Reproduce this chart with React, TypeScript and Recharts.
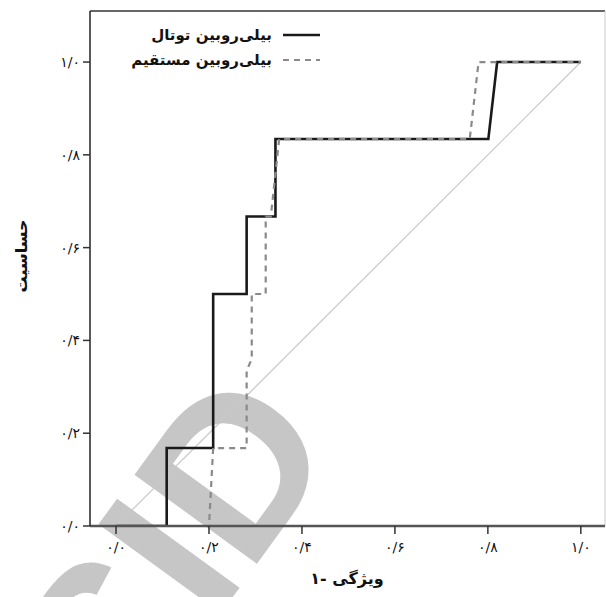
import React from 'react';
import { LineChart, Line, XAxis, YAxis, ReferenceLine, Legend, Label } from 'recharts';

const xTicks = [0, 0.2, 0.4, 0.6, 0.8, 1.0];
const yTicks = [0, 0.2, 0.4, 0.6, 0.8, 1.0];
const tickLabels = ['۰/۰', '۰/۲', '۰/۴', '۰/۶', '۰/۸', '۱/۰'];
const seriesNames = ['بیلی‌روبین توتال', 'بیلی‌روبین مستقیم'];
const xTitle = '۱- ویژگی';
const yTitle = 'حساسیت';
const watermark = 'SID';

const totalFpr = [0, 0.109, 0.109, 0.209, 0.209, 0.281, 0.281, 0.343, 0.343, 0.801, 0.82, 1.0];
const totalTpr = [0, 0, 0.168, 0.168, 0.5, 0.5, 0.667, 0.667, 0.834, 0.834, 1.0, 1.0];

const directFpr = [0, 0.2, 0.209, 0.281, 0.281, 0.292, 0.292, 0.322, 0.322, 0.333, 0.351, 0.761, 0.78, 1.0];
const directTpr = [0, 0, 0.168, 0.168, 0.335, 0.36, 0.5, 0.5, 0.667, 0.667, 0.834, 0.834, 1.0, 1.0];

const diagFpr = [0, 1];
const diagTpr = [0, 1];

const zip = (xs: number[], ys: number[]) => xs.map((x, i) => ({ x, y: ys[i] }));
const totalData = zip(totalFpr, totalTpr);
const directData = zip(directFpr, directTpr);
const diagData = zip(diagFpr, diagTpr);

const X_MIN = -0.056;
const X_MAX = 1.052;
const Y_MAX = 1.11;
const FONT = '"DejaVu Sans", sans-serif';

const fmt = (v: number) => {
  const i = xTicks.findIndex((t) => Math.abs(t - v) < 1e-6);
  return i >= 0 ? tickLabels[i] : '';
};

const LegendBox = () => (
  <svg width={200} height={50} style={{ overflow: 'visible' }}>
    <text x={122} y={18} textAnchor="end" fontSize={15} fontWeight="bold" fontFamily={FONT} fill="#111">
      {seriesNames[0]}
    </text>
    <line x1={133} x2={170} y1={13} y2={13} stroke="#1a1a1a" strokeWidth={2.6} />
    <text x={122} y={43} textAnchor="end" fontSize={15} fontWeight="bold" fontFamily={FONT} fill="#111">
      {seriesNames[1]}
    </text>
    <line x1={133} x2={170} y1={38} y2={38} stroke="#8a8a8a" strokeWidth={2.2} strokeDasharray="6 5" />
  </svg>
);

export default function App() {
  return (
    <div style={{ position: 'absolute', left: 0, top: 0, width: 606, height: 597, background: '#fff', overflow: 'hidden' }}>
      <svg width={606} height={597} style={{ position: 'absolute', left: 0, top: 0 }}>
        <text
          x={126}
          y={744}
          transform="rotate(-54 126 744)"
          fontSize={220}
          fontWeight="bold"
          fontFamily='"Liberation Sans", Arial, sans-serif'
          fill="#c6c6c6"
        >
          {watermark}
        </text>
      </svg>
      <div style={{ position: 'absolute', left: 0, top: 0 }}>
        <LineChart width={606} height={597} margin={{ top: 11, right: 1, bottom: 0, left: 0 }}>
          <XAxis
            type="number"
            dataKey="x"
            domain={[X_MIN, X_MAX]}
            ticks={xTicks}
            allowDataOverflow
            tickFormatter={fmt}
            height={71}
            tickSize={8}
            tickMargin={8}
            axisLine={{ stroke: '#555', strokeWidth: 2.5 }}
            tickLine={{ stroke: '#333', strokeWidth: 1.5 }}
            tick={{ fill: '#111', fontSize: 14, fontFamily: FONT }}
          >
            <Label
              content={() => (
                <text x={347} y={584} textAnchor="middle" fontSize={16} fontWeight="bold" fontFamily={FONT} fill="#111">
                  {xTitle}
                </text>
              )}
            />
          </XAxis>
          <YAxis
            type="number"
            domain={[0, Y_MAX]}
            ticks={yTicks}
            allowDataOverflow
            tickFormatter={fmt}
            width={90}
            tickSize={7}
            tickMargin={3}
            axisLine={{ stroke: '#222', strokeWidth: 1.5 }}
            tickLine={{ stroke: '#333', strokeWidth: 1.5 }}
            tick={{ fill: '#111', fontSize: 14, fontFamily: FONT }}
          >
            <Label
              content={() => (
                <text
                  x={27}
                  y={256}
                  transform="rotate(-90 27 256)"
                  textAnchor="middle"
                  fontSize={16}
                  fontWeight="bold"
                  fontFamily={FONT}
                  fill="#111"
                >
                  {yTitle}
                </text>
              )}
            />
          </YAxis>
          <ReferenceLine y={Y_MAX} stroke="#333" strokeWidth={1.5} />
          <ReferenceLine x={X_MAX} stroke="#c8c8c8" strokeWidth={1} />
          <Legend
            layout="horizontal"
            verticalAlign="middle"
            align="center"
            content={() => <LegendBox />}
            wrapperStyle={{ position: 'absolute', left: 150, top: 22, width: 200, height: 50 }}
          />
          <Line
            data={diagData}
            dataKey="y"
            type="linear"
            stroke="#c8c8c8"
            strokeWidth={1.2}
            dot={false}
            activeDot={false}
            legendType="none"
            isAnimationActive={false}
          />
          <Line
            data={totalData}
            dataKey="y"
            name={seriesNames[0]}
            type="linear"
            stroke="#1a1a1a"
            strokeWidth={2.6}
            dot={false}
            activeDot={false}
            isAnimationActive={false}
          />
          <Line
            data={directData}
            dataKey="y"
            name={seriesNames[1]}
            type="linear"
            stroke="#8a8a8a"
            strokeWidth={2.2}
            strokeDasharray="6 5"
            dot={false}
            activeDot={false}
            isAnimationActive={false}
          />
        </LineChart>
      </div>
    </div>
  );
}
